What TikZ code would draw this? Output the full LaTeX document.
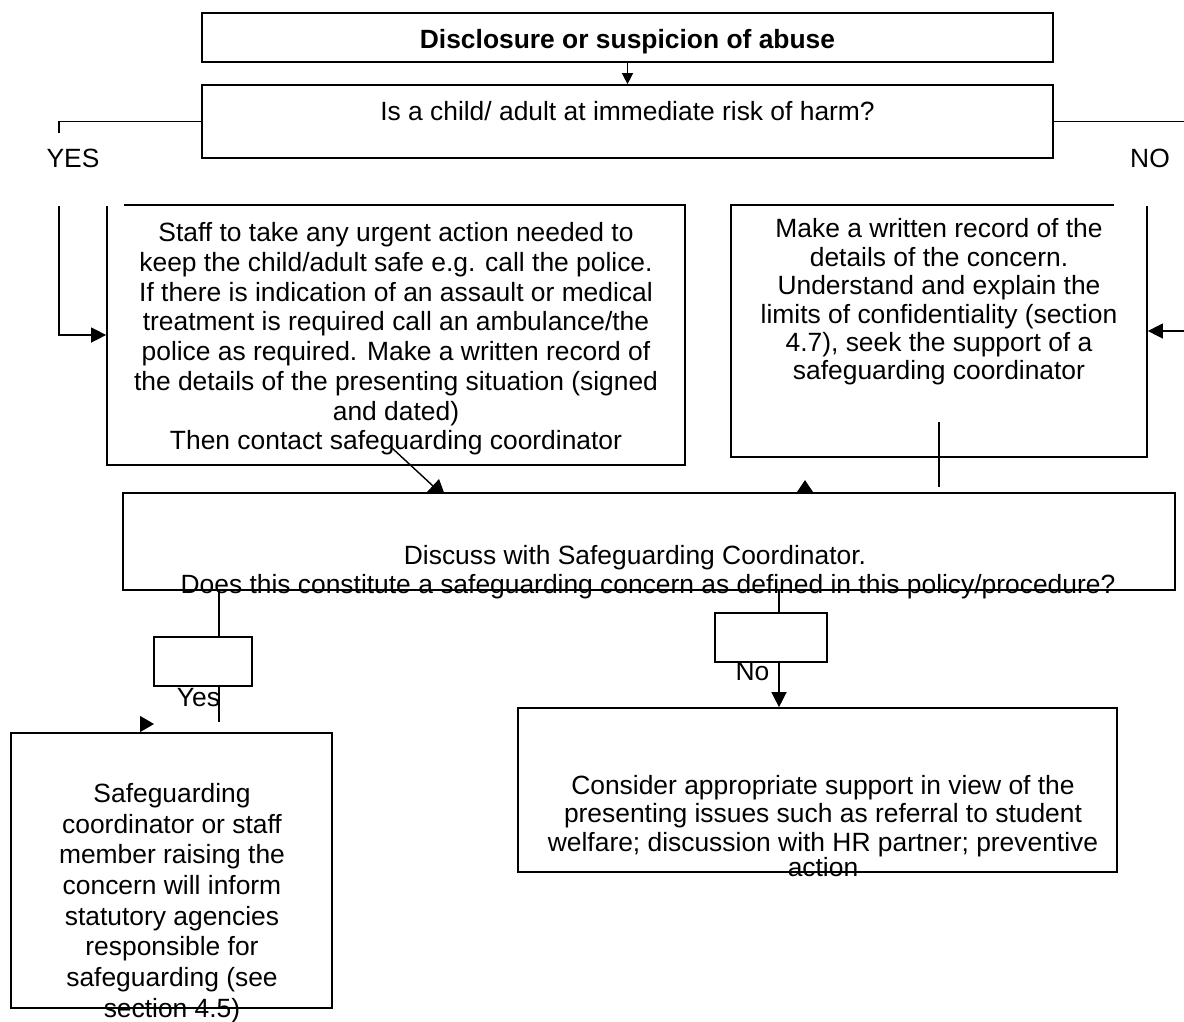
\documentclass[tikz,border=0pt]{standalone}
\usepackage{fontspec}
\setmainfont{Liberation Sans}
\usepackage{tikz}
\usetikzlibrary{arrows.meta}
\usetikzlibrary{backgrounds}

\begin{document}
\begin{tikzpicture}[x=1pt, y=-1pt,
    box/.style={draw, line width=1.7pt, inner sep=0pt},
    txt/.style={font=\fontsize{26.4}{29.7}\selectfont, align=center, inner sep=0pt},
    link/.style={line width=1.4pt},
    tip/.style={link, -{Triangle[length=15pt, width=15pt]}}]
\useasboundingbox (0,0) rectangle (1184,1021);

% Boxes
\node[box, minimum width=851pt, minimum height=49pt] (title) at (627.5,37.5) {};
\node[box, minimum width=851pt, minimum height=73pt] (risk) at (627.5,121.5) {};
\node[box, minimum width=578pt, minimum height=260pt] (staff) at (396,335) {};
\node[box, minimum width=416pt, minimum height=252pt] (notes) at (939,331) {};
\node[box, minimum width=98pt, minimum height=49pt] (yesbox) at (203,661.5) {};
\node[box, minimum width=112pt, minimum height=49pt] (nobox) at (771,637.5) {};
\node[box, minimum width=321pt, minimum height=275pt] (inform) at (171.5,870.5) {};
\node[box, minimum width=599pt, minimum height=164pt] (support) at (817.5,790) {};

% Top texts
\node[txt, font=\bfseries\fontsize{26.4}{29.7}\selectfont, anchor=base] (titleText) at (627.5,48) {Disclosure or suspicion of abuse};
\node[txt, anchor=base] (riskText) at (627.5,120) {Is a child/ adult at immediate risk of harm?};
\draw[link, -{Triangle[length=11pt, width=11pt]}] (title) -- (risk);

% YES branch
\coordinate (yesbend) at (59,335);
\draw[tip] (risk.west) -| (yesbend) -- (staff.west);
\fill[white] (40,133) rectangle (124,206);
\node[txt, anchor=base] (yes) at (73,167) {YES};

% NO branch
\coordinate (nobend) at (1187,331);
\draw[tip] (risk.east) -| (nobend) -- (notes.east);
\fill[white] (1114,133) rectangle (1190,206);
\node[txt, anchor=base] (no) at (1150,167) {NO};

\node[txt] (staffText) at (396,339) {Staff to take any urgent action needed to\\ keep the child/adult safe e.g. call the police.\\ If there is indication of an assault or medical\\ treatment is required call an ambulance/the\\ police as required. Make a written record of\\ the details of the presenting situation (signed\\ and dated)\\ Then contact safeguarding coordinator};
\node[txt, font=\fontsize{26.4}{28.4}\selectfont] (notesText) at (939,302) {Make a written record of the\\ details of the concern.\\ Understand and explain the\\ limits of confidentiality (section\\ 4.7), seek the support of a\\ safeguarding coordinator};
\coordinate (inner1) at (939,422);
\coordinate (inner2) at (939,487);
\draw[link] (inner1) -- (inner2);

% Discuss
\node[box, fill=white, minimum width=1052pt, minimum height=97pt] (discuss) at (649,541.5) {};
\node[txt, font=\fontsize{26.4}{29}\selectfont] (discussText) at (648,572) {Discuss with Safeguarding Coordinator.\hspace*{26pt}\\ Does this constitute a safeguarding concern as defined in this policy/procedure?};
\coordinate (diagstart) at (392,448);
\coordinate (diagend) at (446,498);
\coordinate (upstart) at (805,525);
\coordinate (upend) at (805,480);
\begin{scope}[on background layer]
\fill[white] (0,0) rectangle (1184,1021);
\draw[link, -{Triangle[length=18pt, width=18pt]}] (diagstart) -- (diagend);
\draw[link, -{Triangle[length=13pt, width=17pt]}] (upstart) -- (upend);
\end{scope}

% Yes / No
\coordinate (yesx) at (219,0);
\coordinate (yesend) at (219,722);
\draw[link] (discuss.south -| yesx) -- (yesbox.north -| yesx);
\draw[link] (yesbox.south -| yesx) -- (yesend);
\node[txt, anchor=base] (yesLabel) at (198.5,706) {Yes};
\coordinate (yeshead0) at (140,724);
\coordinate (yeshead1) at (154,724);
\draw[link, -{Triangle[length=14pt, width=16pt]}] (yeshead0) -- (yeshead1);

\coordinate (nox) at (779,0);
\draw[link] (discuss.south -| nox) -- (nobox.north -| nox);
\draw[tip] (nobox.south -| nox) -- (support.north -| nox);
\node[txt, anchor=base] (noLabel) at (752.5,680) {No};

% Outcomes
\node[txt, font=\fontsize{26.4}{30.7}\selectfont] (informText) at (172,903) {Safeguarding\\ coordinator or staff\\ member raising the\\ concern will inform\\ statutory agencies\\ responsible for\\ safeguarding (see\\ section 4.5)};
\node[txt, font=\fontsize{26.4}{28.5}\selectfont] (supportText) at (823,826) {Consider appropriate support in view of the\\ presenting issues such as referral to student\\ welfare; discussion with HR partner; preventive\\[-3.5pt] action};
\end{tikzpicture}
\end{document}
